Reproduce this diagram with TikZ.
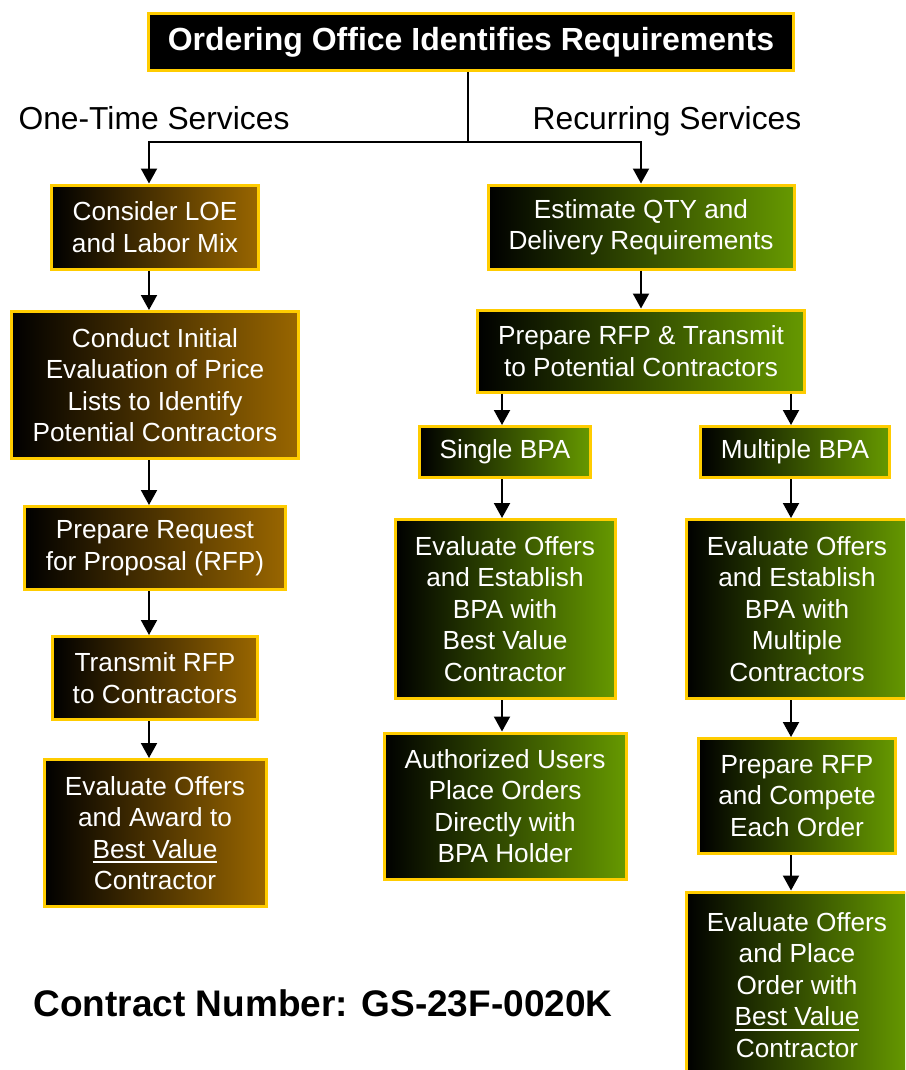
\documentclass[tikz,border=0pt]{standalone}
\usepackage{fontspec}
\setmainfont{Liberation Sans}
\usetikzlibrary{arrows.meta}
\definecolor{gld}{RGB}{255,204,0}
\definecolor{brn}{RGB}{153,102,0}
\definecolor{grn}{RGB}{102,153,0}
\newcommand{\ulbv}[1]{\setbox0\hbox{#1}\rlap{\vrule height -3pt depth 5pt width \wd0}\box0}
\tikzset{%
    cbox/.style={draw=gld,line width=3pt,inner sep=0pt,align=center,text=white,font=\fontsize{26.2}{31.5}\selectfont},
    brnbox/.style={cbox,left color=black,right color=brn},
    grnbox/.style={cbox,left color=black,right color=grn},
    arr/.style={line width=2pt,-{Triangle[width=16pt,length=15pt]}},
    lbl/.style={font=\fontsize{31.8}{36}\selectfont,anchor=base}
}
\begin{document}
\begin{tikzpicture}[x=1pt,y=-1pt]
        \useasboundingbox (0,0) rectangle (905,1070);
        \clip (0,0) rectangle (905,1070);

        \node[cbox,fill=black,font=\bfseries\fontsize{32}{38}\selectfont,minimum width=645pt,minimum height=57pt] (top) at (471,42) {Ordering Office Identifies Requirements};
        \node[lbl] (ots) at (154,129) {One-Time Services};
        \node[lbl] (rs) at (667,129) {Recurring Services};

        \node[brnbox,minimum width=207pt,minimum height=84pt] (l1) at (155,227) {Consider LOE\\and Labor Mix};
        \node[brnbox,minimum width=287pt,minimum height=147pt] (l2) at (155,385) {Conduct Initial\\Evaluation of Price\\Lists to Identify\\Potential Contractors};
        \node[brnbox,minimum width=261pt,minimum height=83pt] (l3) at (155,548) {Prepare Request\\for Proposal (RFP)};
        \node[brnbox,minimum width=205pt,minimum height=83pt] (l4) at (155,678) {Transmit RFP\\to Contractors};
        \node[brnbox,minimum width=222pt,minimum height=147pt] (l5) at (155,833) {Evaluate Offers\\and Award to\\\ulbv{Best Value}\\Contractor};

        \node[grnbox,minimum width=306pt,minimum height=84pt] (m1) at (641,227) {Estimate QTY and\\Delivery Requirements};
        \node[grnbox,minimum width=327pt,minimum height=82pt] (m2) at (641,351) {Prepare RFP \& Transmit\\to Potential Contractors};
        \node[grnbox,minimum width=171pt,minimum height=51pt] (m3) at (505,452) {Single BPA};
        \node[grnbox,minimum width=220pt,minimum height=179pt] (m4) at (505,609) {Evaluate Offers\\and Establish\\BPA with\\Best Value\\Contractor};
        \node[grnbox,minimum width=242pt,minimum height=146pt] (m5) at (505,806) {Authorized Users\\Place Orders\\Directly with\\BPA Holder};

        \node[grnbox,minimum width=189pt,minimum height=51pt] (r1) at (795,452) {Multiple BPA};
        \node[grnbox,minimum width=222pt,minimum height=179pt] (r2) at (797,609) {Evaluate Offers\\and Establish\\BPA with\\Multiple\\Contractors};
        \node[grnbox,minimum width=197pt,minimum height=115pt] (r3) at (797,796) {Prepare RFP\\and Compete\\Each Order};
        \node[grnbox,minimum width=222pt,minimum height=186pt] (r4) at (797,985) {Evaluate Offers\\and Place\\Order with\\\ulbv{Best Value}\\Contractor};

        \node[font=\bfseries\fontsize{37}{44}\selectfont,anchor=base] (cn) at (323,1016) {Contract Number: GS-23F-0020K};

        \coordinate (sp) at (468,142);
        \coordinate (lx) at (149,0);
        \coordinate (mx) at (502,0);
        \coordinate (rx) at (791,0);

        \draw[line width=2pt] (top.south -| sp) -- (sp);
        \draw[arr] (sp) -| (l1.north -| lx);
        \draw[arr] (sp) -| (m1.north);

        \draw[arr] (l1.south -| lx) -- (l2.north -| lx);
        \draw[arr] (l2.south -| lx) -- (l3.north -| lx);
        \draw[arr] (l3.south -| lx) -- (l4.north -| lx);
        \draw[arr] (l4.south -| lx) -- (l5.north -| lx);

        \draw[arr] (m1) -- (m2);
        \draw[arr] (m2.south -| mx) -- (m3.north -| mx);
        \draw[arr] (m3.south -| mx) -- (m4.north -| mx);
        \draw[arr] (m4.south -| mx) -- (m5.north -| mx);

        \draw[arr] (m2.south -| rx) -- (r1.north -| rx);
        \draw[arr] (r1.south -| rx) -- (r2.north -| rx);
        \draw[arr] (r2.south -| rx) -- (r3.north -| rx);
        \draw[arr] (r3.south -| rx) -- (r4.north -| rx);
    \end{tikzpicture}
\end{document}
